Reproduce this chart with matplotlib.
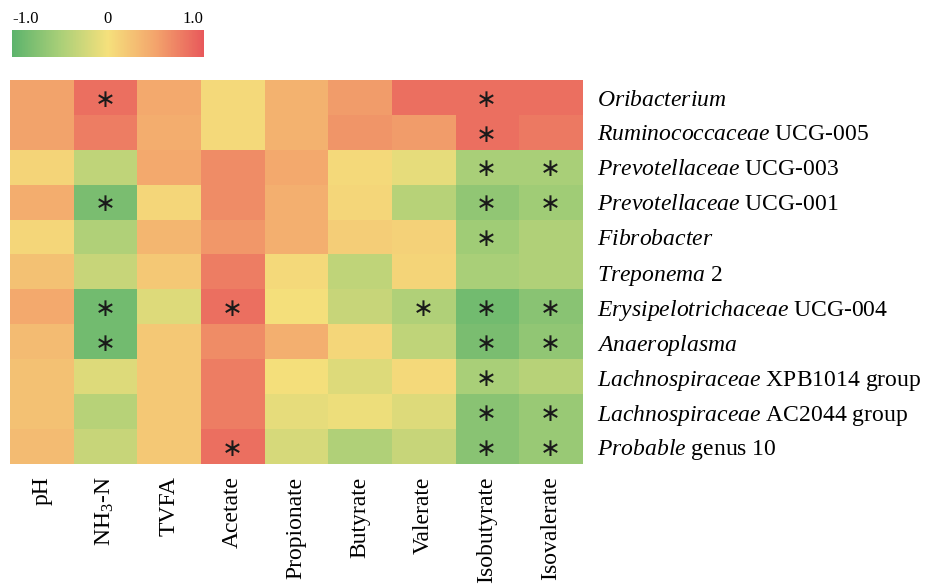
import matplotlib
matplotlib.use('Agg')
import matplotlib.pyplot as plt
from matplotlib.colors import LinearSegmentedColormap
import numpy as np

plt.rcParams['font.family'] = ['Liberation Serif', 'DejaVu Serif']
plt.rcParams['mathtext.fontset'] = 'custom'
plt.rcParams['mathtext.rm'] = 'Liberation Serif'
plt.rcParams['mathtext.it'] = 'Liberation Serif:italic'

factors = ['pH', 'NH$_3$-N', 'TVFA', 'Acetate', 'Propionate', 'Butyrate',
           'Valerate', 'Isobutyrate', 'Isovalerate']

genera = [r'$\mathit{Oribacterium}$',
          r'$\mathit{Ruminococcaceae}$ UCG-005',
          r'$\mathit{Prevotellaceae}$ UCG-003',
          r'$\mathit{Prevotellaceae}$ UCG-001',
          r'$\mathit{Fibrobacter}$',
          r'$\mathit{Treponema}$ 2',
          r'$\mathit{Erysipelotrichaceae}$ UCG-004',
          r'$\mathit{Anaeroplasma}$',
          r'$\mathit{Lachnospiraceae}$ XPB1014 group',
          r'$\mathit{Lachnospiraceae}$ AC2044 group',
          r'$\mathit{Probable}$ genus 10']

# correlation coefficients (rows = genera, cols = factors)
corr = np.array([
    [0.50,  0.85,  0.45, 0.05,  0.38,  0.55,  0.85,  0.85,  0.85],
    [0.50,  0.75,  0.42, 0.05,  0.38,  0.60,  0.55,  0.85,  0.78],
    [0.10, -0.35,  0.45, 0.65,  0.45,  0.05, -0.10, -0.50, -0.50],
    [0.42, -0.80,  0.08, 0.65,  0.40,  0.08, -0.40, -0.65, -0.55],
    [0.08, -0.45,  0.35, 0.58,  0.40,  0.15,  0.12, -0.55, -0.45],
    [0.25, -0.30,  0.20, 0.75,  0.05, -0.35,  0.10, -0.50, -0.45],
    [0.45, -0.85, -0.15, 0.85,  0.00, -0.30, -0.45, -0.85, -0.70],
    [0.30, -0.85,  0.20, 0.65,  0.40,  0.08, -0.35, -0.80, -0.65],
    [0.25, -0.15,  0.20, 0.75,  0.00, -0.15,  0.05, -0.50, -0.40],
    [0.25, -0.40,  0.20, 0.75, -0.10, -0.05, -0.15, -0.70, -0.60],
    [0.30, -0.30,  0.20, 0.85, -0.20, -0.45, -0.30, -0.70, -0.60],
])

# significant cells (1 = *)
sig = np.array([
    [0, 1, 0, 0, 0, 0, 0, 1, 0],
    [0, 0, 0, 0, 0, 0, 0, 1, 0],
    [0, 0, 0, 0, 0, 0, 0, 1, 1],
    [0, 1, 0, 0, 0, 0, 0, 1, 1],
    [0, 0, 0, 0, 0, 0, 0, 1, 0],
    [0, 0, 0, 0, 0, 0, 0, 0, 0],
    [0, 1, 0, 1, 0, 0, 1, 1, 1],
    [0, 1, 0, 0, 0, 0, 0, 1, 1],
    [0, 0, 0, 0, 0, 0, 0, 1, 0],
    [0, 0, 0, 0, 0, 0, 0, 1, 1],
    [0, 0, 0, 1, 0, 0, 0, 1, 1],
])

cmap = LinearSegmentedColormap.from_list(
    'gyr', ['#5cb36c', '#a9cf78', '#f5e07c', '#f3a46c', '#e8595b'])

fig = plt.figure(figsize=(9.35, 5.85), dpi=100)

ax = fig.add_axes([0.0107, 0.207, 0.6118, 0.656])
im = ax.imshow(corr, cmap=cmap, vmin=-1, vmax=1, aspect='auto')
for i in range(corr.shape[0]):
    for j in range(corr.shape[1]):
        if sig[i, j]:
            ax.text(j, i + 0.06, '∗', ha='center', va='center', fontsize=18,
                    family='DejaVu Sans', color='#1a1a1a')

ax.set_xticks(range(len(factors)))
ax.set_xticklabels(factors, rotation=90, fontsize=17)
ax.set_yticks(range(len(genera)))
ax.set_yticklabels(genera, fontsize=17)
ax.yaxis.tick_right()
ax.tick_params(axis='x', length=0, pad=9)
ax.tick_params(axis='y', length=0, pad=11)
for s in ax.spines.values():
    s.set_visible(False)

cax = fig.add_axes([0.0128, 0.903, 0.205, 0.046])
cb = fig.colorbar(im, cax=cax, orientation='horizontal')
cb.outline.set_visible(False)
cb.set_ticks([-1, 0, 1])
cax.xaxis.set_ticks_position('top')
cax.tick_params(length=0, pad=2)
cax.set_xticklabels(['-1.0', '0', '1.0'], fontsize=12)
labs = cax.get_xticklabels()
labs[0].set_ha('left')
labs[2].set_ha('right')

fig.savefig('out.png', dpi=100)
